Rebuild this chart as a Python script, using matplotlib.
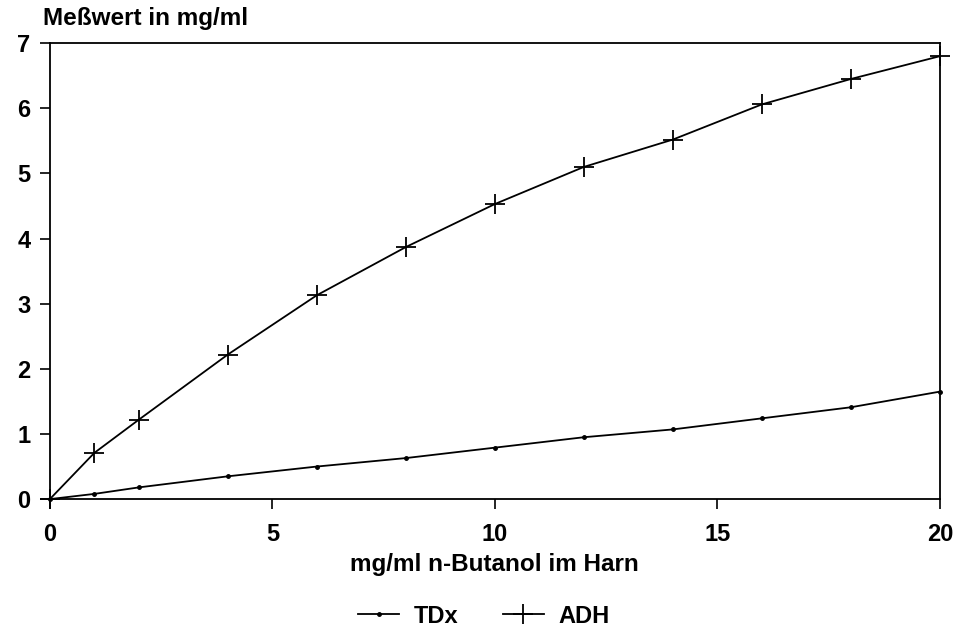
import matplotlib
matplotlib.use('Agg')
import matplotlib.pyplot as plt

# Werte
butanol = [0, 1, 2, 4, 6, 8, 10, 12, 14, 16, 18, 20]
tdx = [0, 0.08, 0.18, 0.35, 0.50, 0.63, 0.79, 0.95, 1.07, 1.24, 1.41, 1.65]
adh = [0, 0.71, 1.22, 2.22, 3.13, 3.87, 4.53, 5.10, 5.52, 6.06, 6.45, 6.80]
x_ticks = [0, 5, 10, 15, 20]
y_ticks = [0, 1, 2, 3, 4, 5, 6, 7]

plt.rcParams['font.family'] = ['Liberation Sans', 'DejaVu Sans']

fig = plt.figure(figsize=(9.59, 6.35), dpi=100)
ax = fig.add_axes([0.052, 0.214, 0.928, 0.718])

ax.plot(butanol, tdx, color='black', linewidth=1.3, marker='.', markersize=5,
        clip_on=False, label='TDx')
ax.plot(butanol, adh, color='black', linewidth=1.3, marker='+', markersize=15,
        markeredgewidth=1.3, clip_on=False, label='ADH')

ax.set_xlim(0, 20)
ax.set_ylim(0, 7)
ax.set_xticks(x_ticks)
ax.set_yticks(y_ticks)
ax.tick_params(direction='out', length=7, width=1.2, labelsize=17)
ax.tick_params(axis='x', pad=10)
ax.tick_params(axis='y', pad=7)
for lab in ax.get_xticklabels() + ax.get_yticklabels():
    lab.set_fontweight('bold')
for s in ax.spines.values():
    s.set_linewidth(1.3)

ax.set_xlabel('mg/ml n-Butanol im Harn', fontsize=17.5, fontweight='bold', labelpad=5)
fig.text(0.045, 0.953, 'Meßwert in mg/ml', fontsize=17.5, fontweight='bold', ha='left', va='bottom')

fig.legend(loc='lower center', bbox_to_anchor=(0.505, -0.022), ncol=2, frameon=False,
           prop={'weight': 'bold', 'size': 17}, handlelength=1.7, handletextpad=0.65,
           columnspacing=1.9)

fig.savefig('out.png', dpi=100)
